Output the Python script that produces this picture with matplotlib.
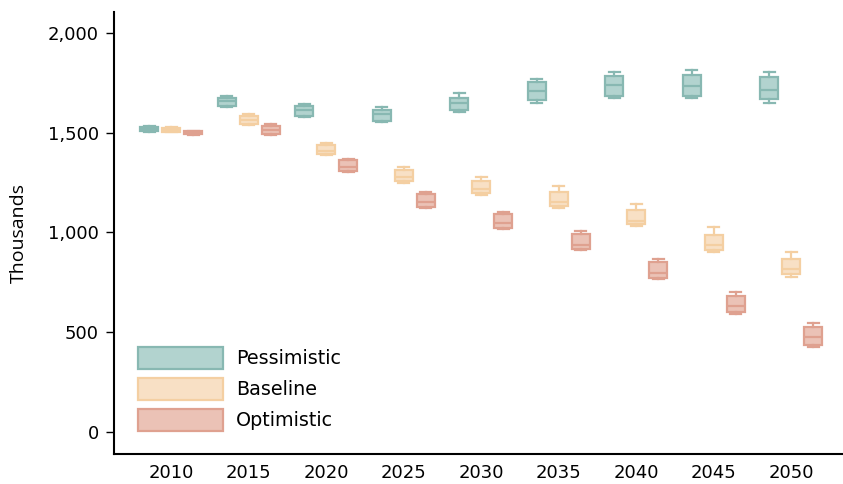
import numpy as np
import matplotlib.pyplot as plt
from matplotlib.patches import Patch

years = [2010, 2015, 2020, 2025, 2030, 2035, 2040, 2045, 2050]
scenarios = ["Pessimistic", "Baseline", "Optimistic"]

# whisker low, q1, median, q3, whisker high (thousands)
pess_lo = [1505, 1630, 1578, 1552, 1605, 1650, 1675, 1672, 1648]
pess_q1 = [1510, 1635, 1585, 1560, 1615, 1665, 1685, 1682, 1667]
pess_med = [1520, 1658, 1612, 1592, 1650, 1710, 1740, 1734, 1712]
pess_q3 = [1528, 1675, 1635, 1615, 1675, 1755, 1785, 1787, 1777]
pess_hi = [1532, 1685, 1645, 1630, 1700, 1770, 1805, 1812, 1802]

base_lo = [1502, 1540, 1385, 1245, 1185, 1120, 1030, 901, 776]
base_q1 = [1505, 1545, 1390, 1255, 1195, 1130, 1040, 911, 791]
base_med = [1515, 1562, 1405, 1275, 1215, 1150, 1055, 936, 816]
base_q3 = [1525, 1585, 1435, 1310, 1255, 1200, 1110, 986, 866]
base_hi = [1530, 1592, 1445, 1325, 1275, 1230, 1140, 1026, 901]

opt_lo = [1490, 1487, 1300, 1122, 1015, 910, 765, 591, 426]
opt_q1 = [1493, 1492, 1305, 1128, 1022, 918, 772, 601, 436]
opt_med = [1500, 1512, 1325, 1150, 1045, 938, 795, 631, 476]
opt_q3 = [1508, 1535, 1360, 1190, 1090, 990, 850, 681, 526]
opt_hi = [1510, 1542, 1365, 1200, 1100, 1005, 865, 700, 546]

data = {
    "Pessimistic": (pess_lo, pess_q1, pess_med, pess_q3, pess_hi),
    "Baseline": (base_lo, base_q1, base_med, base_q3, base_hi),
    "Optimistic": (opt_lo, opt_q1, opt_med, opt_q3, opt_hi),
}
faces = {"Pessimistic": "#b2d3cf", "Baseline": "#f8e0c5", "Optimistic": "#ebc2b6"}
edges = {"Pessimistic": "#88b8b2", "Baseline": "#f4cfa2", "Optimistic": "#dfa190"}
offsets = {"Pessimistic": -1.42, "Baseline": 0.0, "Optimistic": 1.42}

fig = plt.figure(figsize=(8.43, 4.84), dpi=100)
ax = fig.add_axes([0.1352, 0.062, 0.864, 0.913])

for s in scenarios:
    lo, q1, med, q3, hi = data[s]
    stats = [dict(whislo=lo[i], q1=q1[i], med=med[i], q3=q3[i], whishi=hi[i], fliers=[])
             for i in range(len(years))]
    pos = [y + offsets[s] for y in years]
    ec = edges[s]
    ax.bxp(stats, positions=pos, widths=1.16, patch_artist=True, showfliers=False,
           boxprops=dict(facecolor=faces[s], edgecolor=ec, linewidth=1.6),
           medianprops=dict(color=ec, linewidth=1.6),
           whiskerprops=dict(color=ec, linewidth=1.6),
           capprops=dict(color=ec, linewidth=1.6),
           capwidths=0.7, manage_ticks=False)

ax.set_xlim(2006.3, 2053.3)
ax.set_ylim(-110, 2103)
ax.set_xticks(years)
ax.set_xticklabels([str(y) for y in years], fontsize=13, family="DejaVu Sans")
ax.set_yticks([0, 500, 1000, 1500, 2000])
ax.set_yticklabels(["0", "500", "1,000", "1,500", "2,000"], fontsize=13, family="DejaVu Sans")
ax.tick_params(axis="x", length=0, pad=7)
ax.tick_params(axis="y", length=6, width=1, pad=5)
ax.set_ylabel("Thousands", fontsize=14, family="Open Sans", labelpad=14)

for side in ["top", "right"]:
    ax.spines[side].set_visible(False)
for side in ["left", "bottom"]:
    ax.spines[side].set_linewidth(1.5)

handles = [Patch(facecolor=faces[s], edgecolor=edges[s], linewidth=1.6, label=s) for s in scenarios]
ax.legend(handles=handles, loc="lower left", bbox_to_anchor=(0.0335, 0.052), frameon=False,
          prop=dict(family="DejaVu Sans", size=13.8), handlelength=4.4, handleheight=1.4,
          labelspacing=0.47, borderpad=0, borderaxespad=0, handletextpad=0.7)

fig.savefig("out.png", dpi=100)
